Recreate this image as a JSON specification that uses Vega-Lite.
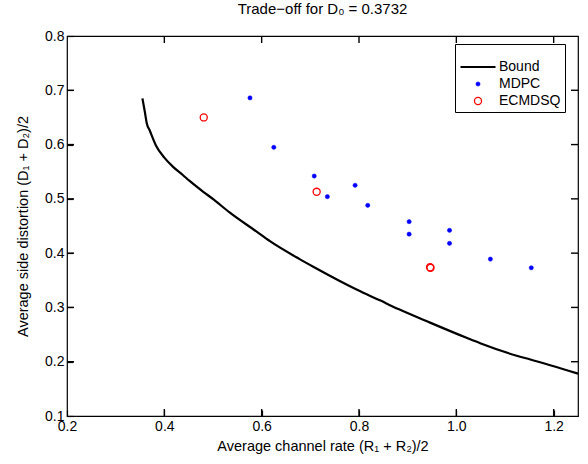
{
  "$schema": "https://vega.github.io/schema/vega-lite/v6.json",
  "width": 511,
  "height": 380,
  "autosize": {"type": "none"},
  "padding": {"left": 67, "top": 36, "right": 10, "bottom": 48},
  "title": {"text": "Trade−off for D₀ = 0.3732", "fontSize": 15, "fontWeight": "normal", "font": "Liberation Sans", "color": "black", "offset": 12, "anchor": "middle"},
  "config": {
    "view": {"stroke": "black", "strokeWidth": 1.2},
    "axis": {"grid": false, "domain": false, "labelColor": "black", "titleColor": "black", "labelFont": "Liberation Sans", "titleFont": "Liberation Sans", "labelFontSize": 14, "titleFontSize": 14.5, "titleFontWeight": "normal"}
  },
  "datasets": {
    "bound": [
      {"x": 0.355, "y": 0.685, "series": "Bound"},
      {"x": 0.360, "y": 0.660, "series": "Bound"},
      {"x": 0.364, "y": 0.639, "series": "Bound"},
      {"x": 0.370, "y": 0.626, "series": "Bound"},
      {"x": 0.383, "y": 0.598, "series": "Bound"},
      {"x": 0.400, "y": 0.576, "series": "Bound"},
      {"x": 0.418, "y": 0.559, "series": "Bound"},
      {"x": 0.438, "y": 0.544, "series": "Bound"},
      {"x": 0.452, "y": 0.533, "series": "Bound"},
      {"x": 0.480, "y": 0.513, "series": "Bound"},
      {"x": 0.501, "y": 0.499, "series": "Bound"},
      {"x": 0.534, "y": 0.475, "series": "Bound"},
      {"x": 0.589, "y": 0.440, "series": "Bound"},
      {"x": 0.617, "y": 0.422, "series": "Bound"},
      {"x": 0.678, "y": 0.389, "series": "Bound"},
      {"x": 0.706, "y": 0.375, "series": "Bound"},
      {"x": 0.795, "y": 0.333, "series": "Bound"},
      {"x": 0.843, "y": 0.313, "series": "Bound"},
      {"x": 0.881, "y": 0.297, "series": "Bound"},
      {"x": 0.946, "y": 0.272, "series": "Bound"},
      {"x": 1.021, "y": 0.244, "series": "Bound"},
      {"x": 1.049, "y": 0.234, "series": "Bound"},
      {"x": 1.124, "y": 0.211, "series": "Bound"},
      {"x": 1.152, "y": 0.204, "series": "Bound"},
      {"x": 1.250, "y": 0.178, "series": "Bound"}
    ],
    "pts": [
      {"x": 0.576, "y": 0.686, "series": "MDPC"},
      {"x": 0.625, "y": 0.595, "series": "MDPC"},
      {"x": 0.708, "y": 0.542, "series": "MDPC"},
      {"x": 0.735, "y": 0.504, "series": "MDPC"},
      {"x": 0.792, "y": 0.525, "series": "MDPC"},
      {"x": 0.818, "y": 0.488, "series": "MDPC"},
      {"x": 0.903, "y": 0.458, "series": "MDPC"},
      {"x": 0.903, "y": 0.435, "series": "MDPC"},
      {"x": 0.986, "y": 0.442, "series": "MDPC"},
      {"x": 0.986, "y": 0.418, "series": "MDPC"},
      {"x": 1.070, "y": 0.389, "series": "MDPC"},
      {"x": 1.154, "y": 0.373, "series": "MDPC"},
      {"x": 0.481, "y": 0.650, "series": "ECMDSQ"},
      {"x": 0.713, "y": 0.513, "series": "ECMDSQ"},
      {"x": 0.946, "y": 0.374, "series": "ECMDSQ"},
      {"x": 0.947, "y": 0.373, "series": "ECMDSQ"}
    ],
    "xticks": [{"v": 0.4}, {"v": 0.6}, {"v": 0.8}, {"v": 1.0}, {"v": 1.2}],
    "yticks": [{"v": 0.2}, {"v": 0.3}, {"v": 0.4}, {"v": 0.5}, {"v": 0.6}, {"v": 0.7}]
  },
  "layer": [
    {
      "data": {"name": "bound"},
      "mark": {"type": "line", "strokeWidth": 2.2, "interpolate": "monotone"},
      "encoding": {
        "x": {"field": "x", "type": "quantitative", "scale": {"domain": [0.2, 1.25], "nice": false, "zero": false}, "axis": {"title": "Average channel rate (R₁ + R₂)/2", "values": [0.2, 0.4, 0.6, 0.8, 1, 1.2], "ticks": true, "tickSize": 6, "tickWidth": 1.2, "tickColor": "black", "tickOpacity": 1, "offset": -6, "zindex": 2, "labelPadding": 3, "titlePadding": 6, "labelFlush": false}},
        "y": {"field": "y", "type": "quantitative", "scale": {"domain": [0.1, 0.8], "nice": false, "zero": false}, "axis": {"title": "Average side distortion (D₁ + D₂)/2", "values": [0.1, 0.2, 0.3, 0.4, 0.5, 0.6, 0.7, 0.8], "format": ".1f", "ticks": true, "tickSize": 6, "tickWidth": 1.2, "tickColor": "black", "tickOpacity": 1, "offset": -6, "zindex": 2, "labelPadding": 3, "titlePadding": 14, "labelFlush": false}},
        "color": {"field": "series", "type": "nominal", "scale": {"domain": ["Bound", "MDPC", "ECMDSQ"], "range": ["black", "#0000ff", "#ff0000"]}, "legend": {"title": null, "orient": "none", "legendX": 388, "legendY": 8, "strokeColor": "black", "fillColor": "white", "padding": 4, "labelFont": "Liberation Sans", "labelFontSize": 14, "labelColor": "black", "rowPadding": 3, "labelOffset": 2, "zindex": 3}}
      }
    },
    {
      "data": {"name": "pts"},
      "mark": {"type": "point", "filled": false, "opacity": 1},
      "encoding": {
        "x": {"field": "x", "type": "quantitative", "axis": null},
        "y": {"field": "y", "type": "quantitative", "axis": null},
        "color": {"field": "series", "type": "nominal"},
        "fill": {"field": "series", "type": "nominal", "scale": {"domain": ["Bound", "MDPC", "ECMDSQ"], "range": ["black", "#0000ff", "transparent"]}},
        "shape": {"field": "series", "type": "nominal", "scale": {"domain": ["Bound", "MDPC", "ECMDSQ"], "range": ["stroke", "circle", "circle"]}},
        "size": {"field": "series", "type": "nominal", "scale": {"type": "ordinal", "domain": ["Bound", "MDPC", "ECMDSQ"], "range": [1225, 18, 50]}},
        "strokeWidth": {"field": "series", "type": "nominal", "scale": {"type": "ordinal", "domain": ["Bound", "MDPC", "ECMDSQ"], "range": [2.2, 0.5, 1.3]}}
      }
    },
    {
      "data": {"name": "xticks"},
      "mark": {"type": "tick", "orient": "vertical", "size": 7, "thickness": 1.4, "color": "black", "opacity": 1, "yOffset": -3.5},
      "encoding": {
        "x": {"field": "v", "type": "quantitative", "axis": null},
        "y": {"datum": 0.1, "type": "quantitative", "axis": null}
      }
    },
    {
      "data": {"name": "xticks"},
      "mark": {"type": "tick", "orient": "vertical", "size": 7, "thickness": 1.4, "color": "black", "opacity": 1, "yOffset": 3.5},
      "encoding": {
        "x": {"field": "v", "type": "quantitative", "axis": null},
        "y": {"datum": 0.8, "type": "quantitative", "axis": null}
      }
    },
    {
      "data": {"name": "yticks"},
      "mark": {"type": "tick", "orient": "horizontal", "size": 7, "thickness": 1.4, "color": "black", "opacity": 1, "xOffset": 3.5},
      "encoding": {
        "y": {"field": "v", "type": "quantitative", "axis": null},
        "x": {"datum": 0.2, "type": "quantitative", "axis": null}
      }
    },
    {
      "data": {"name": "yticks"},
      "mark": {"type": "tick", "orient": "horizontal", "size": 7, "thickness": 1.4, "color": "black", "opacity": 1, "xOffset": -3.5},
      "encoding": {
        "y": {"field": "v", "type": "quantitative", "axis": null},
        "x": {"datum": 1.25, "type": "quantitative", "axis": null}
      }
    }
  ],
  "resolve": {"axis": {"x": "independent", "y": "independent"}}
}
